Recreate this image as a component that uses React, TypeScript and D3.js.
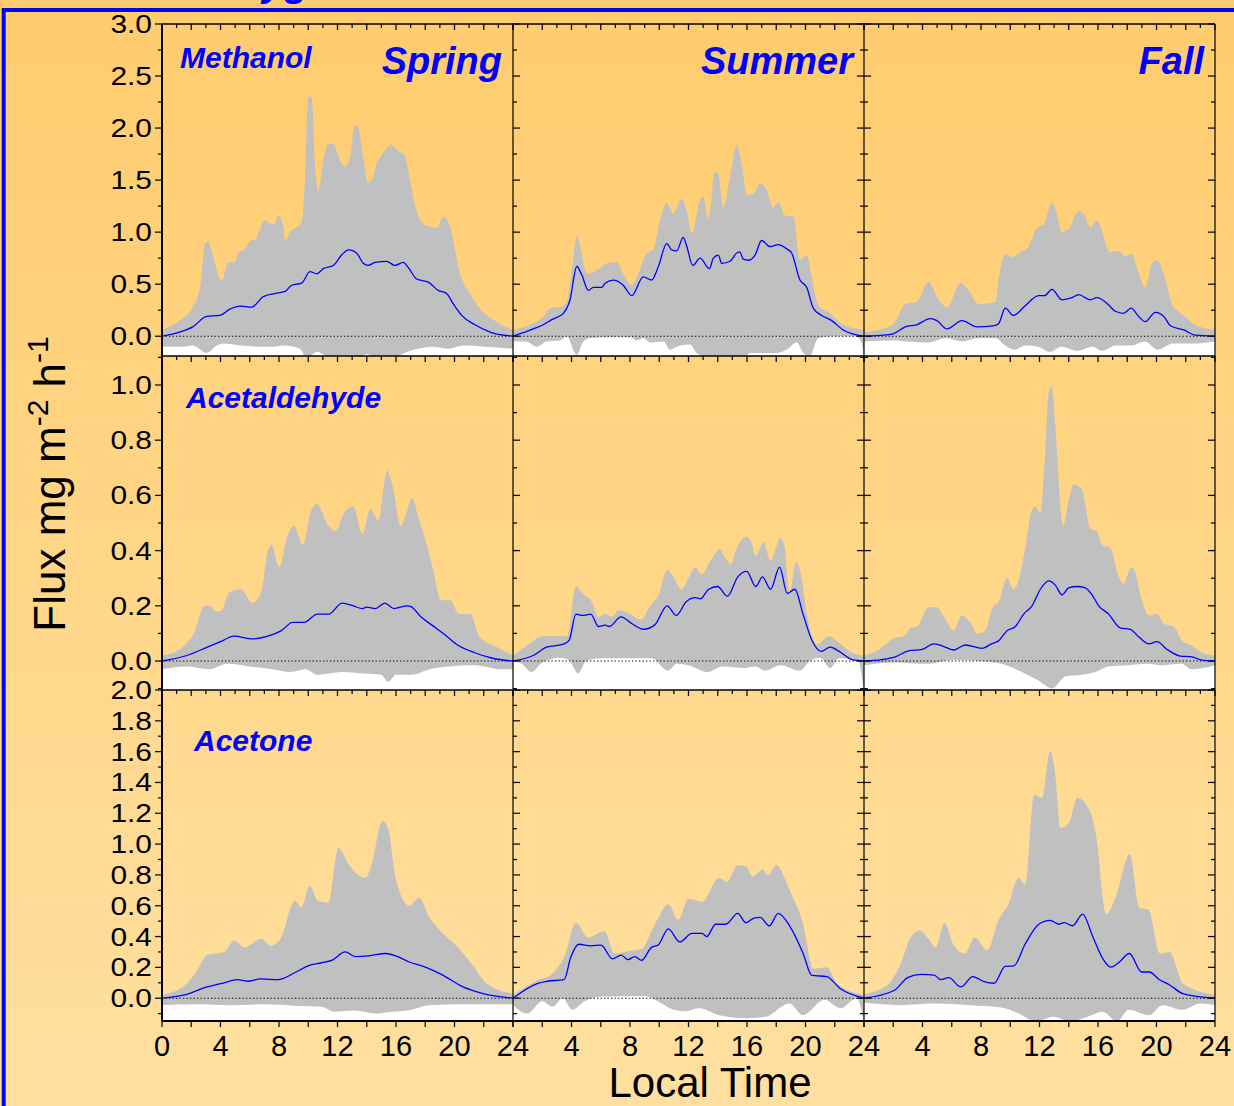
import React, { useEffect } from 'react';
import * as d3 from 'd3';

type Pt = [number, number];

// ---------- Data (hour, flux mg m-2 h-1) ----------
const methanolSpringUpper: Pt[] = [[0,0.06],[1.2,0.15],[2.1,0.28],[2.6,0.47],[2.95,0.89],[3.15,0.91],[3.5,0.76],[3.95,0.56],[4.1,0.54],[4.55,0.71],[5.0,0.71],[5.2,0.8],[5.7,0.84],[6.0,0.91],[6.45,0.94],[6.7,1.03],[7.05,1.12],[7.4,1.08],[7.7,1.08],[7.95,1.16],[8.3,1.05],[8.4,0.92],[8.85,1.02],[9.2,1.05],[9.55,1.1],[9.78,1.5],[10.0,2.3],[10.24,2.3],[10.46,1.66],[10.69,1.4],[11.03,1.69],[11.37,1.85],[11.71,1.85],[12.17,1.69],[12.5,1.63],[12.85,1.72],[13.2,2.03],[13.42,2.0],[13.76,1.72],[14.1,1.48],[14.34,1.5],[14.68,1.66],[15.02,1.74],[15.7,1.84],[16.05,1.79],[16.6,1.74],[16.96,1.5],[17.3,1.26],[17.98,1.07],[18.78,1.04],[19.24,1.15],[19.69,1.05],[20.38,0.6],[21.18,0.38],[21.97,0.23],[22.88,0.14],[24,0.06]];
const methanolSpringMean: Pt[] = [[0,0],[1.2,0.04],[2.1,0.09],[3.05,0.19],[3.95,0.2],[4.65,0.26],[5.33,0.29],[6.13,0.28],[6.93,0.38],[7.73,0.41],[8.41,0.43],[8.87,0.49],[9.55,0.51],[10.12,0.62],[10.58,0.6],[11.03,0.65],[11.71,0.68],[12.28,0.78],[12.74,0.83],[13.08,0.82],[13.42,0.78],[13.76,0.7],[14.1,0.68],[14.56,0.71],[15.36,0.72],[15.93,0.68],[16.5,0.71],[16.84,0.66],[17.41,0.55],[18.21,0.52],[18.89,0.44],[19.46,0.41],[19.92,0.31],[20.49,0.2],[21.4,0.11],[22.43,0.04],[24,0]];
const methanolSpringLower: Pt[] = [[0,-0.1],[1.46,-0.1],[2.1,-0.09],[3.05,-0.16],[3.74,-0.09],[4.2,-0.07],[5.35,-0.09],[6.7,-0.1],[7.6,-0.1],[8.3,-0.09],[9.44,-0.12],[9.9,-0.21],[10.6,-0.15],[11.1,-0.18],[11.6,-0.21],[13.5,-0.21],[14.0,-0.17],[14.7,-0.21],[15.8,-0.2],[17.2,-0.13],[18.5,-0.1],[19.6,-0.12],[20.6,-0.09],[22.0,-0.1],[24,-0.12]];

const methanolSummerUpper: Pt[] = [[0,0.06],[1.16,0.11],[2.07,0.19],[2.53,0.27],[3.21,0.28],[3.67,0.33],[4.01,0.63],[4.36,0.96],[4.6,0.86],[5.04,0.6],[5.5,0.62],[5.95,0.65],[6.41,0.7],[7.09,0.71],[7.54,0.6],[8.12,0.49],[8.57,0.6],[9.14,0.8],[9.6,0.83],[10.05,1.12],[10.51,1.28],[10.96,1.18],[11.53,1.32],[11.87,1.21],[12.22,0.99],[12.79,1.31],[13.0,1.34],[13.36,1.12],[13.81,1.58],[14.04,1.56],[14.38,1.24],[14.84,1.53],[15.3,1.84],[15.64,1.66],[15.98,1.36],[16.44,1.37],[16.89,1.47],[17.35,1.4],[17.8,1.24],[18.14,1.29],[18.6,1.16],[19.17,1.15],[19.62,0.73],[20.08,0.78],[20.42,0.57],[20.87,0.3],[21.67,0.22],[22.58,0.11],[24,0.06]];
const methanolSummerMean: Pt[] = [[0,0],[1.39,0.07],[2.07,0.11],[2.65,0.16],[3.44,0.22],[3.9,0.35],[4.36,0.67],[4.7,0.59],[5.15,0.44],[5.5,0.47],[6.07,0.47],[6.3,0.51],[6.86,0.54],[7.54,0.49],[8.12,0.39],[8.91,0.57],[9.48,0.54],[9.94,0.67],[10.51,0.89],[10.85,0.83],[11.19,0.82],[11.64,0.95],[11.87,0.87],[12.29,0.68],[12.79,0.75],[13.43,0.65],[13.7,0.75],[14.04,0.78],[14.27,0.7],[14.84,0.72],[15.3,0.8],[15.5,0.81],[15.75,0.74],[16.1,0.73],[16.55,0.78],[17.0,0.92],[17.58,0.86],[18.14,0.88],[18.71,0.84],[19.05,0.8],[19.62,0.54],[20.08,0.47],[20.53,0.27],[21.1,0.2],[21.79,0.15],[22.58,0.06],[24,0]];
const methanolSummerLower: Pt[] = [[0,-0.05],[0.9,-0.05],[1.62,-0.1],[2.3,-0.05],[3.21,-0.04],[3.67,0],[4.36,-0.18],[4.8,-0.05],[5.27,-0.02],[6.4,-0.01],[8.0,-0.01],[8.5,-0.04],[8.9,-0.02],[9.37,-0.06],[10.3,-0.05],[10.73,-0.13],[11.2,-0.1],[12.1,-0.08],[12.56,-0.16],[13.5,-0.21],[15.75,-0.21],[16.2,-0.16],[17.1,-0.16],[18.0,-0.16],[18.7,-0.13],[19.4,-0.06],[19.85,-0.16],[20.3,-0.19],[20.87,-0.02],[21.7,0],[23.4,0],[23.8,-0.05],[24,-0.2]];

const methanolFallUpper: Pt[] = [[0,0.04],[1.23,0.07],[2.03,0.12],[2.82,0.31],[3.6,0.33],[4.42,0.52],[4.99,0.38],[5.67,0.28],[6.59,0.51],[7.16,0.44],[7.84,0.31],[8.98,0.33],[9.2,0.54],[9.66,0.79],[10.22,0.76],[10.56,0.8],[11.15,0.84],[11.83,1.04],[12.28,1.07],[12.85,1.28],[13.08,1.23],[13.54,1.0],[13.99,1.03],[14.68,1.2],[15.0,1.18],[15.47,1.05],[15.93,1.11],[16.84,0.81],[17.41,0.82],[17.87,0.77],[18.3,0.79],[18.78,0.6],[19.24,0.47],[19.7,0.7],[20.03,0.73],[20.5,0.6],[21.06,0.31],[21.86,0.2],[22.65,0.11],[24,0.06]];
const methanolFallMean: Pt[] = [[0,0],[1.93,0.02],[2.82,0.09],[3.6,0.11],[4.53,0.17],[4.99,0.15],[5.67,0.07],[6.7,0.15],[7.72,0.09],[8.84,0.1],[9.2,0.12],[9.66,0.27],[10.22,0.2],[11.0,0.29],[11.94,0.39],[12.35,0.39],[12.85,0.45],[13.54,0.35],[14.22,0.37],[14.68,0.4],[15.47,0.35],[15.93,0.37],[16.73,0.3],[17.18,0.24],[17.75,0.22],[18.27,0.27],[18.78,0.19],[19.24,0.14],[19.92,0.23],[20.5,0.19],[20.96,0.1],[21.86,0.06],[22.65,0.01],[24,0]];
const methanolFallLower: Pt[] = [[0,-0.05],[2.1,-0.04],[3.0,-0.05],[4.4,-0.06],[5.6,-0.02],[6.7,-0.05],[7.8,-0.02],[9.0,-0.02],[9.66,-0.09],[10.3,-0.13],[11.0,-0.09],[11.9,-0.1],[12.7,-0.15],[13.5,-0.1],[14.6,-0.14],[15.6,-0.1],[16.3,-0.14],[17.2,-0.09],[18.3,-0.09],[19.2,-0.05],[20.1,-0.13],[21.1,-0.07],[22.4,-0.07],[24,-0.05]];

const acetaldehydeSpringUpper: Pt[] = [[0,0.02],[1.4,0.05],[2.17,0.1],[2.94,0.2],[3.25,0.2],[3.7,0.18],[4.0,0.18],[4.63,0.25],[5.4,0.26],[6.17,0.21],[6.78,0.25],[7.24,0.4],[7.49,0.42],[8.01,0.34],[8.62,0.46],[9.03,0.49],[9.64,0.42],[10.16,0.54],[10.56,0.57],[11.39,0.49],[11.86,0.47],[12.47,0.54],[13.08,0.56],[13.7,0.46],[14.25,0.55],[14.78,0.51],[15.39,0.69],[15.79,0.63],[16.31,0.49],[16.62,0.52],[17.08,0.59],[17.54,0.52],[18.46,0.35],[19.08,0.22],[19.69,0.22],[20.31,0.17],[21.08,0.17],[21.69,0.09],[22.92,0.05],[24,0.02]];
const acetaldehydeSpringMean: Pt[] = [[0,0],[1.71,0.02],[3.09,0.05],[4.0,0.07],[4.94,0.09],[6.17,0.08],[7.24,0.09],[8.16,0.11],[8.93,0.14],[9.7,0.14],[10.63,0.17],[11.39,0.17],[12.32,0.21],[13.08,0.2],[13.7,0.19],[14.0,0.195],[14.6,0.19],[15.23,0.21],[15.85,0.19],[16.77,0.2],[17.08,0.195],[17.7,0.16],[18.46,0.13],[19.23,0.1],[20.16,0.06],[21.38,0.03],[22.6,0.01],[24,0]];
const acetaldehydeSpringLower: Pt[] = [[0,-0.03],[1.8,-0.02],[3.2,-0.03],[4.5,-0.01],[6.0,-0.02],[7.55,-0.03],[8.78,-0.04],[9.8,-0.03],[10.63,-0.05],[12.3,-0.04],[13.8,-0.045],[14.97,-0.05],[15.48,-0.075],[16.0,-0.05],[17.1,-0.05],[18.3,-0.03],[19.6,-0.02],[21.4,-0.015],[23.2,-0.03],[24,-0.03]];

const acetaldehydeSummerUpper: Pt[] = [[0,0.02],[1.07,0.06],[2.0,0.09],[2.92,0.09],[3.69,0.09],[4.3,0.27],[4.76,0.245],[5.38,0.215],[5.84,0.16],[6.3,0.17],[6.76,0.16],[7.22,0.185],[7.99,0.17],[8.76,0.15],[9.37,0.2],[9.99,0.245],[10.54,0.33],[10.92,0.31],[11.53,0.26],[11.99,0.3],[12.45,0.34],[12.9,0.315],[13.52,0.365],[14.14,0.405],[14.45,0.38],[14.91,0.35],[15.22,0.4],[15.98,0.45],[16.29,0.43],[16.6,0.38],[17.12,0.43],[17.61,0.365],[18.29,0.445],[18.55,0.42],[18.9,0.245],[19.36,0.36],[19.66,0.32],[20.13,0.16],[20.75,0.06],[21.61,0.09],[22.3,0.065],[23.2,0.03],[24,0.02]];
const acetaldehydeSummerMean: Pt[] = [[0,0],[1.38,0.02],[2.3,0.05],[3.38,0.06],[3.84,0.075],[4.3,0.17],[4.76,0.165],[5.32,0.17],[5.84,0.125],[6.3,0.13],[6.6,0.125],[7.38,0.16],[8.14,0.135],[8.92,0.115],[9.68,0.13],[10.54,0.2],[11.16,0.165],[11.84,0.215],[12.45,0.23],[12.8,0.225],[13.38,0.26],[13.99,0.27],[14.66,0.235],[15.37,0.305],[15.98,0.325],[16.6,0.27],[17.06,0.305],[17.61,0.26],[18.23,0.34],[18.75,0.245],[19.27,0.26],[19.83,0.17],[20.44,0.075],[21.06,0.035],[21.7,0.05],[22.3,0.035],[23.2,0.005],[24,0]];
const acetaldehydeSummerLower: Pt[] = [[0,0],[0.6,-0.01],[1.25,-0.04],[2.0,-0.005],[3.2,0.012],[3.8,0.005],[4.46,-0.045],[5.0,0],[6.0,0.01],[9.5,0.01],[10.6,-0.035],[11.2,-0.01],[12.0,-0.015],[13.3,-0.04],[14.3,-0.02],[15.8,-0.025],[16.6,-0.02],[17.2,-0.035],[18.3,-0.015],[19.6,-0.035],[20.3,0],[21.0,0.012],[21.7,-0.025],[22.3,0.01],[23.6,0],[24,-0.11]];

const acetaldehydeFallUpper: Pt[] = [[0,0.02],[1.0,0.04],[2.14,0.085],[2.71,0.09],[3.17,0.12],[3.63,0.125],[4.42,0.195],[4.99,0.195],[5.56,0.15],[6.13,0.11],[6.7,0.165],[7.27,0.14],[7.73,0.1],[8.3,0.11],[8.75,0.19],[9.2,0.215],[9.78,0.3],[10.22,0.26],[10.56,0.29],[11.03,0.41],[11.49,0.55],[11.72,0.56],[12.06,0.535],[12.4,0.765],[12.63,0.975],[12.85,0.995],[13.08,0.85],[13.61,0.49],[13.99,0.58],[14.34,0.64],[14.91,0.62],[15.47,0.48],[15.93,0.47],[16.27,0.42],[16.84,0.41],[17.41,0.305],[17.75,0.28],[18.28,0.34],[18.55,0.32],[18.9,0.24],[19.47,0.165],[20.03,0.17],[20.5,0.135],[21.18,0.125],[21.74,0.075],[22.43,0.055],[23.11,0.03],[24,0.02]];
const acetaldehydeFallMean: Pt[] = [[0,0],[1.23,0.005],[2.14,0.015],[3.05,0.037],[3.97,0.042],[4.76,0.062],[5.33,0.055],[6.13,0.04],[6.93,0.058],[8.07,0.046],[8.75,0.063],[9.2,0.073],[9.78,0.11],[10.35,0.125],[10.92,0.17],[11.49,0.2],[12.06,0.26],[12.63,0.29],[13.08,0.275],[13.54,0.24],[13.99,0.265],[14.56,0.27],[15.13,0.265],[15.59,0.24],[16.05,0.2],[16.73,0.17],[17.52,0.12],[18.21,0.115],[18.78,0.088],[19.47,0.062],[20.03,0.07],[20.72,0.042],[21.63,0.018],[22.43,0.015],[23.1,0.003],[24,0]];
const acetaldehydeFallLower: Pt[] = [[0,-0.015],[2.1,-0.005],[4.3,-0.01],[6.1,0.005],[7.9,0],[9.4,-0.01],[10.8,-0.04],[11.9,-0.07],[12.85,-0.1],[13.8,-0.055],[14.9,-0.05],[15.8,-0.04],[16.7,-0.02],[18.1,-0.015],[19.4,-0.01],[20.3,-0.015],[21.7,-0.01],[22.4,-0.03],[24,-0.015]];

const acetoneSpringUpper: Pt[] = [[0,0.02],[1.7,0.095],[2.39,0.18],[3.08,0.28],[4.24,0.3],[4.93,0.375],[5.62,0.33],[6.77,0.385],[7.46,0.34],[8.15,0.395],[9.07,0.63],[9.53,0.59],[10.09,0.73],[10.68,0.63],[11.36,0.62],[12.07,0.975],[12.76,0.87],[13.22,0.815],[13.91,0.78],[14.37,0.88],[15.06,1.15],[15.43,1.11],[15.98,0.78],[16.9,0.6],[17.59,0.65],[18.28,0.525],[19.2,0.42],[20.12,0.34],[21.27,0.21],[22.2,0.095],[24,0.03]];
const acetoneSpringMean: Pt[] = [[0,0],[1.7,0.025],[3.08,0.073],[4.24,0.1],[5.16,0.12],[5.85,0.11],[6.77,0.125],[7.92,0.12],[9.07,0.165],[9.99,0.21],[10.91,0.23],[11.6,0.245],[12.53,0.3],[13.22,0.27],[14.14,0.275],[15.29,0.29],[15.98,0.275],[16.9,0.235],[18.05,0.2],[19.2,0.15],[20.58,0.073],[21.96,0.03],[24,0]];
const acetoneSpringLower: Pt[] = [[0,-0.045],[2.3,-0.04],[4.6,-0.045],[6.9,-0.04],[9.2,-0.05],[10.9,-0.055],[11.8,-0.088],[13.2,-0.08],[14.6,-0.1],[15.7,-0.088],[16.8,-0.08],[18.3,-0.045],[20.6,-0.04],[24,-0.04]];

const acetoneSummerUpper: Pt[] = [[0,0.02],[1.65,0.115],[2.57,0.15],[3.49,0.265],[4.32,0.49],[5.1,0.395],[6.25,0.435],[6.94,0.29],[8.1,0.31],[8.79,0.32],[9.7,0.48],[10.62,0.61],[11.31,0.51],[12.0,0.645],[12.93,0.625],[14.08,0.78],[14.63,0.755],[15.37,0.865],[15.93,0.855],[16.39,0.79],[17.07,0.835],[17.44,0.8],[18.0,0.865],[18.91,0.7],[19.84,0.48],[20.53,0.19],[21.45,0.2],[22.14,0.095],[24,0.02]];
const acetoneSummerMean: Pt[] = [[0,0],[1.65,0.095],[2.34,0.11],[3.49,0.12],[3.95,0.265],[4.5,0.35],[5.33,0.34],[6.02,0.345],[6.8,0.255],[7.4,0.28],[7.86,0.25],[8.32,0.27],[8.79,0.245],[9.47,0.33],[9.93,0.345],[10.62,0.45],[11.4,0.365],[12.24,0.42],[12.93,0.42],[13.25,0.4],[13.85,0.48],[14.54,0.48],[15.37,0.55],[15.93,0.49],[16.48,0.52],[16.9,0.525],[17.53,0.47],[18.13,0.55],[18.91,0.47],[19.84,0.29],[20.43,0.148],[21.45,0.14],[22.37,0.063],[24,0]];
const acetoneSummerLower: Pt[] = [[0,-0.045],[0.96,-0.1],[2.0,-0.02],[2.7,-0.055],[3.4,0],[4.05,-0.075],[4.9,-0.02],[5.9,0.01],[9.0,0.015],[9.9,-0.02],[10.85,-0.07],[11.8,-0.085],[12.7,-0.065],[14.1,-0.11],[15.9,-0.13],[17.3,-0.12],[18.9,-0.035],[19.8,-0.11],[21.3,-0.01],[22.4,-0.065],[23.5,0],[24,-0.15]];

const acetoneFallUpper: Pt[] = [[0,0.025],[1.6,0.085],[2.51,0.225],[3.2,0.395],[3.8,0.44],[4.35,0.39],[4.91,0.33],[5.5,0.49],[6.1,0.35],[6.89,0.29],[7.57,0.395],[8.41,0.31],[9.19,0.505],[9.88,0.61],[10.57,0.78],[11.03,0.74],[11.63,1.32],[12.17,1.3],[12.73,1.605],[13.1,1.43],[13.42,1.105],[14.03,1.14],[14.58,1.3],[15.5,1.2],[15.86,1.06],[16.56,0.545],[17.24,0.665],[18.17,0.935],[18.83,0.585],[19.43,0.575],[20.24,0.29],[20.9,0.3],[21.82,0.095],[24,0.02]];
const acetoneFallMean: Pt[] = [[0,0],[2.06,0.05],[2.98,0.133],[3.9,0.155],[4.8,0.15],[5.25,0.12],[5.8,0.133],[6.62,0.073],[7.44,0.14],[8.2,0.107],[8.9,0.097],[9.65,0.206],[10.25,0.21],[11.03,0.353],[11.95,0.48],[12.73,0.505],[13.32,0.48],[13.7,0.49],[14.26,0.47],[14.95,0.546],[15.64,0.4],[16.33,0.256],[16.87,0.202],[17.46,0.235],[18.15,0.29],[18.98,0.17],[19.5,0.17],[20.2,0.12],[20.9,0.086],[21.8,0.03],[24,0]];
const acetoneFallLower: Pt[] = [[0,-0.03],[2.5,-0.045],[4.8,-0.035],[7.2,-0.045],[9.4,-0.06],[10.6,-0.1],[11.7,-0.15],[13.0,-0.12],[14.0,-0.15],[15.3,-0.12],[16.3,-0.088],[17.3,-0.15],[18.1,-0.075],[19.5,-0.11],[20.4,-0.045],[21.8,-0.075],[23.0,-0.035],[24,-0.045]];

// ---------- Categories & ticks ----------
const compounds = ['Methanol', 'Acetaldehyde', 'Acetone'];
const seasons = ['Spring', 'Summer', 'Fall'];
const firstColHourLabels = [0, 4, 8, 12, 16, 20, 24];
const otherColHourLabels = [4, 8, 12, 16, 20, 24];
const methanolTicks = [0, 0.5, 1.0, 1.5, 2.0, 2.5, 3.0];
const acetaldehydeTicks = [0, 0.2, 0.4, 0.6, 0.8, 1.0];
const acetoneTicks = [0, 0.2, 0.4, 0.6, 0.8, 1.0, 1.2, 1.4, 1.6, 1.8, 2.0];

// ---------- Layout ----------
const W = 1234;
const H = 1106;
const colEdges = [162, 513, 864, 1215];
const rowEdges = [24, 356, 690, 1021];
const FONT = "'Liberation Sans', Arial, Helvetica, sans-serif";
const BLUE = '#0000FF';

const rows = [
  {
    domain: [-0.19, 3.0], major: methanolTicks, minorStep: 0.25,
    label: { x: 180, y: 68 },
    series: [
      { upper: methanolSpringUpper, mean: methanolSpringMean, lower: methanolSpringLower },
      { upper: methanolSummerUpper, mean: methanolSummerMean, lower: methanolSummerLower },
      { upper: methanolFallUpper, mean: methanolFallMean, lower: methanolFallLower },
    ],
  },
  {
    domain: [-0.105, 1.105], major: acetaldehydeTicks, minorStep: 0.1,
    label: { x: 186, y: 408 },
    series: [
      { upper: acetaldehydeSpringUpper, mean: acetaldehydeSpringMean, lower: acetaldehydeSpringLower },
      { upper: acetaldehydeSummerUpper, mean: acetaldehydeSummerMean, lower: acetaldehydeSummerLower },
      { upper: acetaldehydeFallUpper, mean: acetaldehydeFallMean, lower: acetaldehydeFallLower },
    ],
  },
  {
    domain: [-0.148, 2.0], major: acetoneTicks, minorStep: 0.1,
    label: { x: 194, y: 751 },
    series: [
      { upper: acetoneSpringUpper, mean: acetoneSpringMean, lower: acetoneSpringLower },
      { upper: acetoneSummerUpper, mean: acetoneSummerMean, lower: acetoneSummerLower },
      { upper: acetoneFallUpper, mean: acetoneFallMean, lower: acetoneFallLower },
    ],
  },
];

function Panel({ r, c }: { r: number; c: number }) {
  const row = rows[r];
  const s = row.series[c];
  const x0 = colEdges[c], x1 = colEdges[c + 1];
  const y0 = rowEdges[r], y1 = rowEdges[r + 1];
  const x = d3.scaleLinear().domain([0, 24]).range([x0, x1]);
  const y = d3.scaleLinear().domain(row.domain).range([y1, y0]);
  const upperArea = d3.area<Pt>().x(d => x(d[0])).y0(y1 + 2).y1(d => y(d[1])).curve(d3.curveMonotoneX);
  const meanLine = d3.line<Pt>().x(d => x(d[0])).y(d => y(d[1])).curve(d3.curveMonotoneX);
  const clipId = `clip-${r}-${c}`;

  const step = row.minorStep;
  const start = Math.ceil((row.domain[0] + 1e-6) / step);
  const end = Math.floor((row.domain[1] + 1e-6) / step);
  const yTicks = d3.range(start, end + 1).map(i => +(i * step).toFixed(4));
  const isMajor = (v: number) => row.major.some(m => Math.abs(m - v) < 1e-6);
  const hourTicks = d3.range(0, 25);

  return (
    <g>
      <defs>
        <clipPath id={clipId}>
          <rect x={x0} y={y0} width={x1 - x0} height={y1 - y0} />
        </clipPath>
      </defs>
      <g clipPath={`url(#${clipId})`}>
        <path d={upperArea(s.upper) || ''} fill="#C0C0C0" />
        <path d={upperArea(s.lower) || ''} fill="#FFFFFF" />
        <line x1={x0} x2={x1} y1={y(0)} y2={y(0)} stroke="#000" strokeWidth={1.1} strokeDasharray="1.3,2.2" />
        <path d={meanLine(s.mean) || ''} fill="none" stroke={BLUE} strokeWidth={1.3} />
      </g>
      {hourTicks.map(h => (
        <line key={`tt${h}`} x1={x(h)} x2={x(h)} y1={y0} y2={y0 + (h % 2 === 0 ? 6 : 4)} stroke="#111" strokeWidth={1.3} />
      ))}
      {r === 2 && hourTicks.filter(h => h % 2 === 0).map(h => (
        <line key={`bt${h}`} x1={x(h)} x2={x(h)} y1={y1} y2={y1 + 6} stroke="#111" strokeWidth={1.3} />
      ))}
      {yTicks.map(v => {
        const len = isMajor(v) ? 7 : 4;
        const yy = y(v);
        return (
          <g key={`yt${v}`}>
            {c === 0 ? (
              <line x1={x0 - len} x2={x0} y1={yy} y2={yy} stroke="#111" strokeWidth={1.3} />
            ) : (
              <line x1={x0} x2={x0 + len} y1={yy} y2={yy} stroke="#111" strokeWidth={1.3} />
            )}
            {c > 0 && <line x1={x1 - len} x2={x1} y1={yy} y2={yy} stroke="#111" strokeWidth={1.3} />}
          </g>
        );
      })}
      {c === 0 && row.major.map(v => (
        <text key={`yl${v}`} transform={`translate(152,${y(v) + 9}) scale(1.15,1)`} textAnchor="end"
          fontFamily={FONT} fontSize={26} fill="#000">{v.toFixed(1)}</text>
      ))}
      {r === 2 && (c === 0 ? firstColHourLabels : otherColHourLabels).map(h => (
        <text key={`xl${h}`} x={x(h)} y={1056} textAnchor="middle" fontFamily={FONT} fontSize={29} fill="#000">{h}</text>
      ))}
      {c === 0 && (
        <text x={row.label.x} y={row.label.y} fontFamily={FONT} fontSize={30} fontWeight="bold" fontStyle="italic" fill={BLUE}>
          {compounds[r]}
        </text>
      )}
      {r === 0 && (
        <text x={x1 - 11} y={74} textAnchor="end" fontFamily={FONT} fontSize={38} fontWeight="bold" fontStyle="italic" fill={BLUE}>
          {seasons[c]}
        </text>
      )}
    </g>
  );
}

export default function App() {
  useEffect(() => {
    document.body.style.margin = '0';
    document.body.style.overflow = 'hidden';
  }, []);
  const panels: { r: number; c: number }[] = [];
  for (let r = 0; r < 3; r++) for (let c = 0; c < 3; c++) panels.push({ r, c });
  return (
    <svg width={W} height={H} viewBox={`0 0 ${W} ${H}`} style={{ position: 'absolute', left: 0, top: 0, display: 'block' }}>
      <defs>
        <linearGradient id="bg" x1="0" y1="0" x2="0" y2="1">
          <stop offset="0" stopColor="#FFCC6E" />
          <stop offset="1" stopColor="#FFE0A0" />
        </linearGradient>
      </defs>
      <rect x={0} y={0} width={W} height={H} fill="url(#bg)" />
      {/* title fragment, clipped by the top edge as in the reference */}
      <text x={209} y={-4.5} fontFamily={FONT} fontSize={40} fontWeight="bold" fontStyle="italic" fill={BLUE}>Oxygenated</text>
      <line x1={2} x2={W} y1={10} y2={10} stroke={BLUE} strokeWidth={4} />
      <line x1={3.7} x2={3.7} y1={8} y2={H} stroke={BLUE} strokeWidth={4} />

      {panels.map(p => <Panel key={`${p.r}-${p.c}`} r={p.r} c={p.c} />)}

      {rowEdges.map((yy, i) => (
        <line key={`h${i}`} x1={colEdges[0]} x2={colEdges[3]} y1={yy} y2={yy} stroke="#000" strokeWidth={i === 3 ? 2 : 1.5} />
      ))}
      {colEdges.map((xx, i) => (
        <line key={`v${i}`} x1={xx} x2={xx} y1={rowEdges[0]} y2={rowEdges[3]} stroke="#000" strokeWidth={i === 0 ? 2 : 1.2} />
      ))}

      <text x={710} y={1097} textAnchor="middle" fontFamily={FONT} fontSize={42} fill="#000">Local Time</text>
      <text transform="translate(65,484) rotate(-90)" textAnchor="middle" fontFamily={FONT} fontSize={44} fill="#000">
        Flux mg m<tspan dy={-17} fontSize={30}>-2</tspan><tspan dy={17}> h</tspan><tspan dy={-17} fontSize={30}>-1</tspan>
      </text>
    </svg>
  );
}
